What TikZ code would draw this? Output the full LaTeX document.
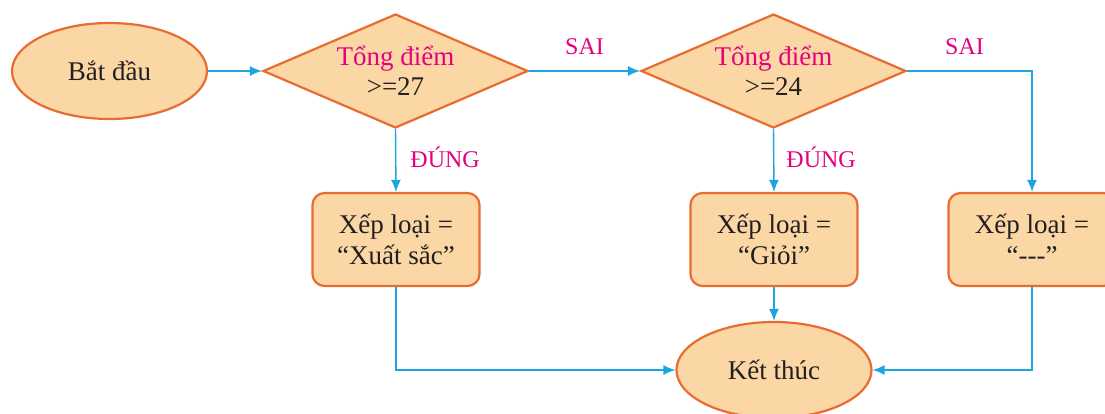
\documentclass[tikz,border=0pt]{standalone}
\usepackage{fontspec}
\setmainfont{Liberation Serif}
\usetikzlibrary{shapes.geometric,arrows.meta}
\definecolor{boxfill}{RGB}{251,215,166}
\definecolor{boxline}{RGB}{232,108,48}
\definecolor{arrowc}{RGB}{27,166,226}
\definecolor{magentac}{RGB}{230,0,126}
\definecolor{textc}{RGB}{35,31,32}
\tikzset{
  shapebase/.style={fill=boxfill, draw=boxline, line width=2.2pt, text=textc,
    font=\fontsize{27}{31}\selectfont, align=center, inner sep=0pt},
  termbox/.style={shapebase, ellipse, minimum width=195pt, minimum height=96pt},
  decbox/.style={shapebase, diamond, minimum width=265pt, minimum height=114pt, shape aspect=2.32},
  procbox/.style={shapebase, rectangle, rounded corners=12pt, minimum width=167pt, minimum height=93pt},
  arr/.style={draw=arrowc, line width=1.4pt, -{Latex[length=12pt,width=10pt]}},
  lbl/.style={text=magentac, font=\fontsize{24}{28}\selectfont, inner sep=0pt},
}
\begin{document}
\begin{tikzpicture}[x=1pt,y=-1pt]
\clip (0,0) rectangle (1105,414);
\fill[white] (0,0) rectangle (1105,414);
\node[termbox] (start) at (109.5,71) {Bắt đầu};
\node[decbox] (d1) at (395.5,71) {\textcolor{magentac}{Tổng điểm}\\[-1pt]>=27};
\node[decbox] (d2) at (773.5,71) {\textcolor{magentac}{Tổng điểm}\\[-1pt]>=24};
\node[procbox] (b1) at (396,239.5) {Xếp loại =\\“Xuất sắc”};
\node[procbox] (b2) at (774,239.5) {Xếp loại =\\“Giỏi”};
\node[procbox] (b3) at (1032,239.5) {Xếp loại =\\“-{}-{}-”};
\node[termbox] (end) at (774,370) {Kết thúc};
\draw[arr] (start) -- (d1);
\draw[arr] (d1) -- node[lbl, yshift=24pt] {SAI} (d2);
\draw[arr] (d2.east) -| node[lbl, pos=0.23, yshift=24pt] {SAI} (b3.north);
\draw[arr] (d1.south) -- node[lbl, anchor=west, xshift=14pt, yshift=3pt] {ĐÚNG} (b1.north);
\draw[arr] (d2.south) -- node[lbl, anchor=west, xshift=12pt, yshift=3pt] {ĐÚNG} (b2.north);
\draw[arr] (b2.south) -- (end.north);
\draw[arr] (b1.south) |- (end.west);
\draw[arr] (b3.south) |- (end.east);
\end{tikzpicture}
\end{document}
